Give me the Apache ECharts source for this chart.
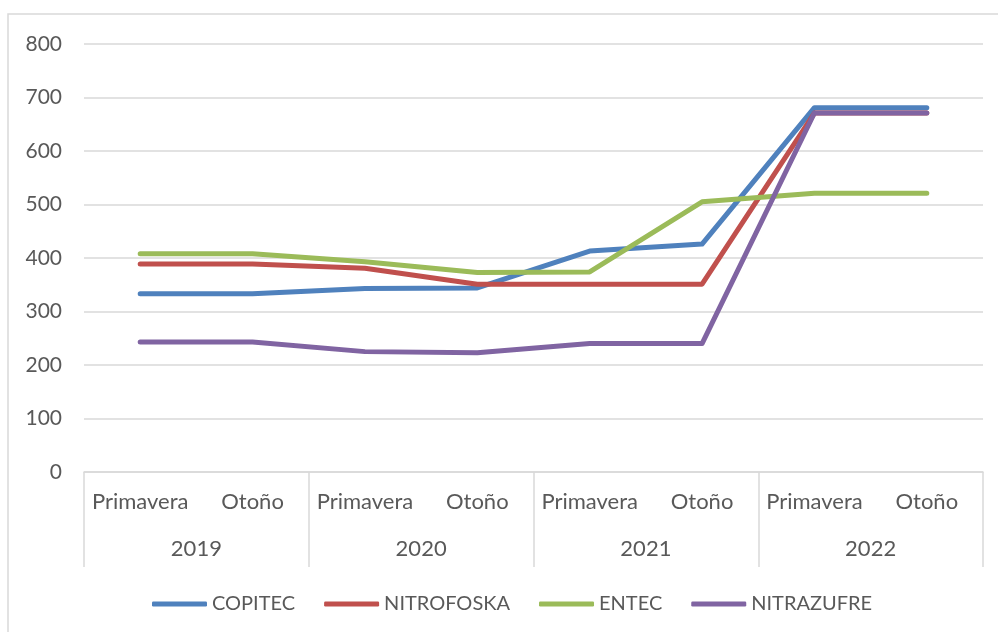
<!DOCTYPE html>
<html>
<head>
<meta charset="utf-8">
<script src="https://cdn.jsdelivr.net/npm/echarts@6/dist/echarts.min.js"></script>
<style>html,body{margin:0;padding:0;background:#fff;}#c{width:998px;height:632px;}</style>
</head>
<body>
<div id="c"></div>
<script>
var seasons = ['Primavera','Otoño','Primavera','Otoño','Primavera','Otoño','Primavera','Otoño'];
var years = ['2019','2020','2021','2022'];
var yTicks = [0,100,200,300,400,500,600,700,800];
var copitec = [333,333,343,344,413,426,681,681];
var nitrofoska = [389,389,381,351,351,351,671,671];
var entec = [408,408,393,373,374,505,521,521];
var nitrazufre = [243,243,225,223,240,240,671,671];

var font = 'Lato';
var txt = '#595959';
var gridCol = '#d9d9d9';
var chart = echarts.init(document.getElementById('c'), null, {renderer:'canvas'});
function line(name, data, color){
  return {name:name, type:'line', data:data, symbol:'none', xAxisIndex:0,
    lineStyle:{width:5, color:color, cap:'round', join:'round'}, itemStyle:{color:color}};
}
chart.setOption({
  animation:false,
  graphic:[{type:'rect', shape:{x:8,y:14,width:1000,height:640}, style:{fill:'none', stroke:gridCol, lineWidth:1.5}, silent:true}],
  grid:{left:84, right:15, top:44, bottom:160},
  legend:{left:147, top:589, itemWidth:55, itemHeight:5, itemGap:29, icon:'roundRect',
    textStyle:{fontFamily:font, fontSize:20, color:txt},
    data:['COPITEC','NITROFOSKA','ENTEC','NITRAZUFRE']},
  xAxis:[
    {type:'category', data:seasons, boundaryGap:true, position:'bottom',
     axisLine:{show:true, lineStyle:{color:gridCol, width:1.5}}, axisTick:{show:false},
     axisLabel:{interval:0, margin:19, fontFamily:font, fontSize:22, color:txt}},
    {type:'category', data:years, boundaryGap:true, position:'bottom',
     axisLine:{show:false}, axisTick:{show:true, length:95, interval:0, lineStyle:{color:gridCol, width:1.5}},
     axisLabel:{interval:0, margin:66, fontFamily:font, fontSize:22, color:txt}}
  ],
  yAxis:{type:'value', min:yTicks[0], max:yTicks[yTicks.length-1], interval:100,
    axisLine:{show:false}, axisTick:{show:false},
    splitLine:{lineStyle:{color:gridCol, width:1.5}},
    axisLabel:{margin:22, fontFamily:font, fontSize:21, color:txt}},
  series:[
    line('COPITEC', copitec, '#4F81BD'),
    line('NITROFOSKA', nitrofoska, '#C0504D'),
    line('ENTEC', entec, '#9BBB59'),
    line('NITRAZUFRE', nitrazufre, '#8064A2')
  ]
});
</script>
</body>
</html>
